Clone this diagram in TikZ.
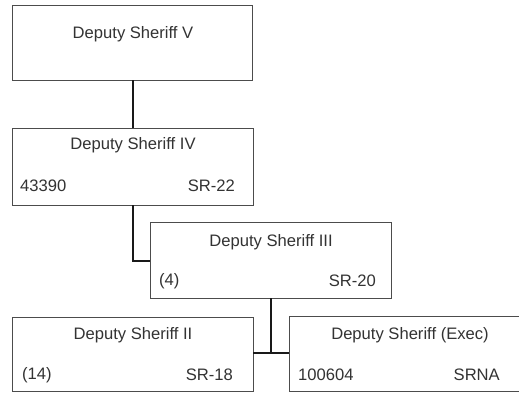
\documentclass[tikz,border=0pt]{standalone}
\usepackage{fontspec}
\setmainfont{Liberation Sans}
\begin{document}
\begin{tikzpicture}[x=1pt,y=-1pt,
  box/.style={draw=black!70,line width=0.9pt,fill=white},
  conn/.style={draw=black!90,line width=2.2pt},
  lbl/.style={inner sep=0pt,text=black!80,font=\fontsize{16.6}{20}\selectfont},
]
\useasboundingbox[fill=white] (0,0) rectangle (519,392);
% boxes
\draw[box] (12,5) rectangle (252,80); \coordinate (vB) at (133,80);
\node[lbl] (vT) at (133,34) {Deputy Sheriff V};
\draw[box] (12,128) rectangle (253,205);
\coordinate (ivT) at (133,128); \coordinate (ivB) at (133,205);
\node[lbl] (ivT1) at (133,145) {Deputy Sheriff IV};
\node[lbl,anchor=west] (ivN) at (20,186) {43390};
\node[lbl,anchor=east] (ivS) at (235,186) {SR-22};
\draw[box] (150,222) rectangle (391,298);
\coordinate (iiiL) at (150,261); \coordinate (iiiB) at (271,298);
\node[lbl] (iiiT) at (271,242) {Deputy Sheriff III};
\node[lbl,anchor=west] (iiiN) at (159,281) {(4)};
\node[lbl,anchor=east] (iiiS) at (376,281) {SR-20};
\draw[box] (12,317) rectangle (253,391);
\coordinate (iiR) at (253,353);
\node[lbl] (iiT) at (133,335) {Deputy Sheriff II};
\node[lbl,anchor=west] (iiN) at (22,375) {(14)};
\node[lbl,anchor=east] (iiS) at (233,375) {SR-18};
\draw[box] (289,316) rectangle (530,391);
\coordinate (exL) at (289,353);
\node[lbl] (exT) at (410,335) {Deputy Sheriff (Exec)};
\node[lbl,anchor=west] (exN) at (298,375) {100604};
\node[lbl,anchor=east] (exS) at (500,375) {SRNA};
% connectors
\draw[conn] (vB) -- (ivT);
\draw[conn] (ivB) |- (iiiL);
\coordinate (j) at (271,353);
\draw[conn] (iiiB) -- (j);
\draw[conn] (iiR) -- (exL);
\end{tikzpicture}
\end{document}
